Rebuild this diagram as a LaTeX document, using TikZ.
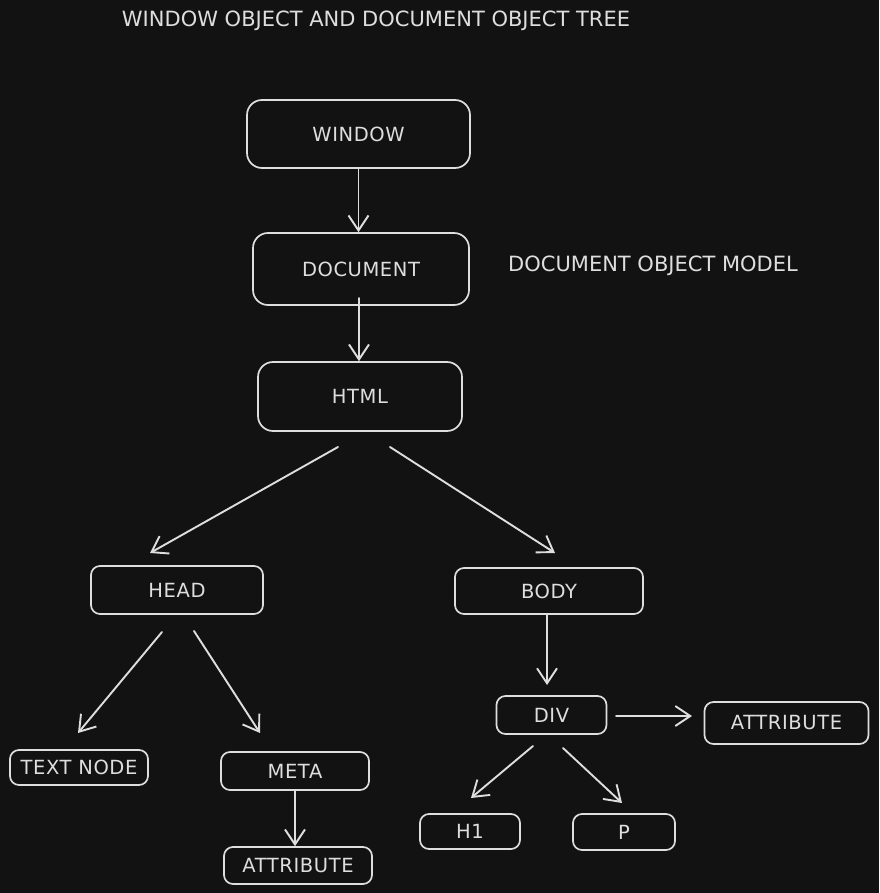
\documentclass[tikz,border=0pt]{standalone}
\usepackage{fontspec}
\setmainfont{DejaVu Sans}
\usetikzlibrary{arrows.meta}
\definecolor{bg}{HTML}{121212}
\definecolor{ink}{HTML}{DEDEDE}
\begin{document}
\begin{tikzpicture}[x=1pt,y=-1pt,
  box/.style={draw=ink, line width=1.7pt, rounded corners=9pt, text=ink,
    font=\fontsize{19.5}{21}\selectfont\addfontfeature{LetterSpace=3}, inner sep=0pt, anchor=center},
  bigbox/.style={box, rounded corners=15pt},
  arr/.style={draw=ink, line width=1.9pt, line cap=round,
    -{Straight Barb[length=15pt,width=20pt,line width=1.9pt]}},
  lbl/.style={text=ink, font=\fontsize{21}{23}\selectfont, inner sep=0pt, anchor=center}]
\fill[bg] (0,0) rectangle (879,893);
\useasboundingbox (0,0) rectangle (879,893);

% title and side label
\node[lbl] (title) at (376,21) {WINDOW OBJECT AND DOCUMENT OBJECT TREE};
\node[lbl] (domlabel) at (653,266) {DOCUMENT OBJECT MODEL};

% boxes
\node[bigbox, minimum width=223pt, minimum height=68pt] (window) at (358.5,134) {WINDOW};
\node[bigbox, minimum width=216pt, minimum height=72pt] (document) at (361,269) {DOCUMENT};
\node[bigbox, minimum width=204pt, minimum height=69pt] (html) at (360,396.5) {HTML};
\node[box, minimum width=172pt, minimum height=48pt] (head) at (177,590) {HEAD};
\node[box, minimum width=188pt, minimum height=46pt] (body) at (549,591) {BODY};
\node[box, minimum width=110pt, minimum height=38pt] (div) at (551.5,715) {DIV};
\node[box, minimum width=164pt, minimum height=42pt] (attr1) at (786.5,723) {ATTRIBUTE};
\node[box, minimum width=138pt, minimum height=35pt] (textnode) at (79,767.5) {TEXT NODE};
\node[box, minimum width=148pt, minimum height=38pt] (meta) at (295,771) {META};
\node[box, minimum width=148pt, minimum height=37pt] (attr2) at (298,865.5) {ATTRIBUTE};
\node[box, minimum width=100pt, minimum height=35pt] (h1) at (470,831.5) {H1};
\node[box, minimum width=102pt, minimum height=36pt] (p) at (624,832) {P};

% free ends of connectors
\coordinate (hA) at (338,447);
\coordinate (hAe) at (150,553);
\coordinate (hB) at (390,447);
\coordinate (hBe) at (555,553);
\coordinate (hdA) at (162,632);
\coordinate (hdAe) at (78,733);
\coordinate (hdB) at (194,631);
\coordinate (hdBe) at (260,733);
\coordinate (dvA) at (533,746);
\coordinate (dvAe) at (471,798);
\coordinate (dvB) at (563,748);
\coordinate (dvBe) at (622,803);
\coordinate (dvC) at (616,716);
\coordinate (dvCe) at (692,716);
\coordinate (bdS) at (547,615);
\coordinate (bdE) at (547,685);
\coordinate (dcS) at (359,298);

% connectors
\draw[arr] (window.south) -- (window.south |- document.north);
\draw[arr] (dcS) -- (dcS |- html.north);
\draw[arr] (hA) -- (hAe);
\draw[arr] (hB) -- (hBe);
\draw[arr] (hdA) -- (hdAe);
\draw[arr] (hdB) -- (hdBe);
\draw[arr] (bdS) -- (bdE);
\draw[arr] (dvC) -- (dvCe);
\draw[arr] (dvA) -- (dvAe);
\draw[arr] (dvB) -- (dvBe);
\draw[arr] (meta.south) -- (meta.south |- attr2.north);
\end{tikzpicture}
\end{document}
